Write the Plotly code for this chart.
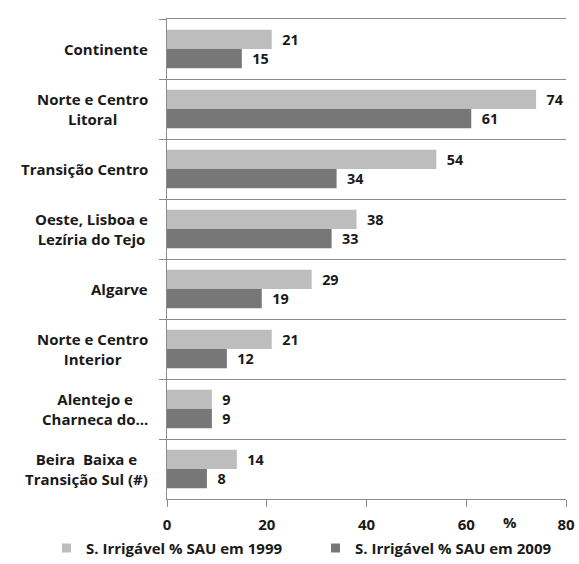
import plotly.graph_objects as go

categories = ["Continente", "Norte e Centro Litoral", "Transição Centro",
              "Oeste, Lisboa e Lezíria do Tejo", "Algarve", "Norte e Centro Interior",
              "Alentejo e Charneca do...", "Beira  Baixa e Transição Sul (#)"]
label_text = ["Continente", "Norte e Centro<br>Litoral", "Transição Centro",
              "Oeste, Lisboa e<br>Lezíria do Tejo", "Algarve", "Norte e Centro<br>Interior",
              "Alentejo e<br>Charneca do...", "Beira  Baixa e<br>Transição Sul (#)"]
values_1999 = [21, 74, 54, 38, 29, 21, 9, 14]
values_2009 = [15, 61, 34, 33, 19, 12, 9, 8]
x_ticks = [0, 20, 40, 60, 80]
series_names = ["S. Irrigável % SAU em 1999", "S. Irrigável % SAU em 2009"]
series_colors = ["#BDBDBD", "#777777"]

FONT = "Open Sans"
FS = 15
TXT = "#1a1a1a"
GRID = "#8c8c8c"
pad = "\u00a0\u00a0"

fig = go.Figure()
for name, vals, col in zip(series_names, [values_1999, values_2009], series_colors):
    fig.add_trace(go.Bar(y=categories, x=vals, orientation="h", name=name,
                         marker=dict(color=col, line=dict(width=0)),
                         text=[pad + str(v) for v in vals], textposition="outside",
                         textfont=dict(family=FONT, size=FS, color=TXT, weight="bold"),
                         cliponaxis=False, showlegend=False))

W, H = 579, 564
L, R, T, B = 167, 13, 19, 65
PW, PH = W - L - R, H - T - B
fig.update_layout(
    width=W, height=H,
    margin=dict(l=L, r=R, t=T, b=B, autoexpand=False),
    paper_bgcolor="white", plot_bgcolor="white",
    barmode="group", bargap=0.36, bargroupgap=0,
    font=dict(family=FONT, size=FS, color=TXT),
    showlegend=False,
    xaxis=dict(range=[0, 80], tickvals=x_ticks, showgrid=False, zeroline=False,
               showline=True, mirror=True, linecolor=GRID, linewidth=1,
               ticks="outside", ticklen=7, tickcolor=GRID, ticklabelstandoff=5,
               tickfont=dict(family=FONT, size=FS, color=TXT, weight="bold")),
    yaxis=dict(autorange="reversed", showticklabels=False, tickson="boundaries",
               showgrid=True, gridcolor=GRID, gridwidth=1,
               ticks="outside", ticklen=7, tickcolor=GRID,
               showline=True, linecolor=GRID, linewidth=1, zeroline=False),
)

for cat, lab in zip(categories, label_text):
    fig.add_annotation(x=-17 / PW, xref="paper", y=cat, yref="y", text=lab,
                       xanchor="right", yanchor="middle", align="center", showarrow=False,
                       font=dict(family=FONT, size=FS, color=TXT, weight="bold"))

fig.add_annotation(x=68.8, xref="x", y=-23 / PH, yref="paper", text="%", showarrow=False,
                   xanchor="center", yanchor="middle",
                   font=dict(family=FONT, size=FS, color=TXT, weight="bold"))

# manual legend (one row, centred under the chart)
leg_y = -49 / PH
sq = 9
for i, (name, col) in enumerate(zip(series_names, series_colors)):
    sx = [62, 331][i]
    fig.add_shape(type="rect", xref="paper", yref="paper",
                  x0=(sx - L) / PW, x1=(sx + sq - L) / PW,
                  y0=leg_y - sq / 2 / PH, y1=leg_y + sq / 2 / PH,
                  fillcolor=col, line=dict(width=0))
    fig.add_annotation(x=(sx + 22 - L) / PW, xref="paper", y=leg_y, yref="paper",
                       text=name, showarrow=False, xanchor="left", yanchor="middle",
                       font=dict(family=FONT, size=FS, color=TXT, weight="bold"))

fig.write_html("out.html", config={"displayModeBar": False},
               post_script="document.body.style.margin='0';document.body.style.overflow='hidden';")
